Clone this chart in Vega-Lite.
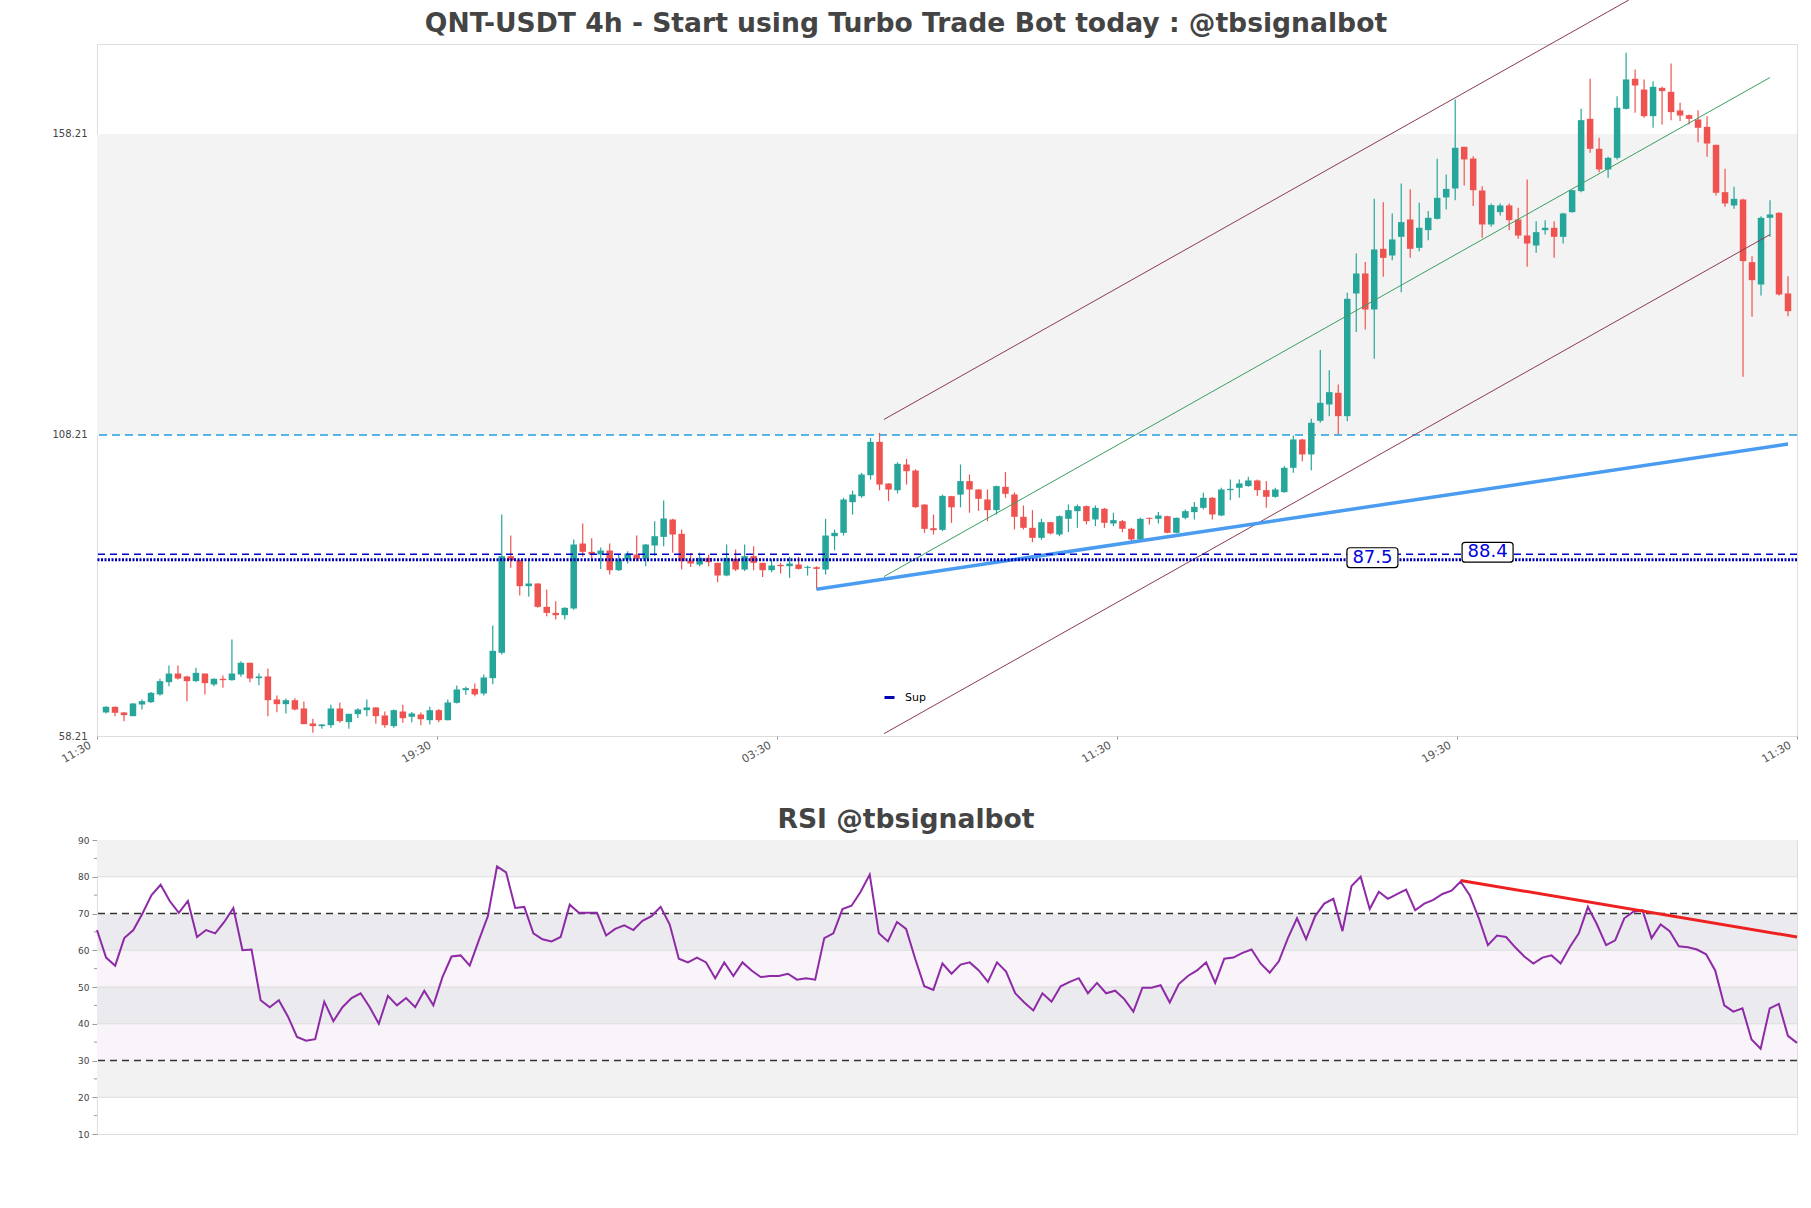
{
"$schema":"https://vega.github.io/schema/vega-lite/v6.json",
"autosize":{"type":"none"},
"padding":{"left":97,"top":44,"right":1714,"bottom":1164},
"background":"white",
"config":{"font":"DejaVu Sans","view":{"stroke":"#dddddd","strokeWidth":1},"axis":{"domain":false,"grid":false,"labelFont":"DejaVu Sans","labelColor":"#444444","tickColor":"#999999","labelOverlap":false,"labelBound":false,"labelFlush":false},"title":{"font":"DejaVu Sans"}},
"bounds":"flush",
"spacing":104,
"datasets":{
"ohlc":[
{"i":0,"o":62.12,"h":63.17,"l":61.95,"c":63.06},
{"i":1,"o":63.06,"h":63.1,"l":61.51,"c":62.06},
{"i":2,"o":62.12,"h":62.2,"l":60.68,"c":61.67},
{"i":3,"o":61.51,"h":63.7,"l":61.51,"c":63.61},
{"i":4,"o":63.44,"h":64.28,"l":62.61,"c":64.0},
{"i":5,"o":63.83,"h":65.5,"l":63.7,"c":65.38},
{"i":6,"o":65.11,"h":67.71,"l":64.94,"c":67.32},
{"i":7,"o":67.15,"h":69.92,"l":66.49,"c":68.59},
{"i":8,"o":68.59,"h":69.92,"l":67.6,"c":67.76},
{"i":9,"o":68.1,"h":68.2,"l":64.0,"c":67.32},
{"i":10,"o":67.32,"h":69.54,"l":67.2,"c":68.7},
{"i":11,"o":68.59,"h":68.6,"l":65.11,"c":66.99},
{"i":12,"o":66.77,"h":67.8,"l":66.49,"c":67.71},
{"i":13,"o":67.71,"h":68.26,"l":66.21,"c":67.49},
{"i":14,"o":67.49,"h":74.24,"l":67.4,"c":68.59},
{"i":15,"o":68.43,"h":70.64,"l":68.04,"c":70.37},
{"i":16,"o":70.37,"h":70.4,"l":67.15,"c":67.76},
{"i":17,"o":67.82,"h":68.59,"l":66.66,"c":68.1},
{"i":18,"o":68.1,"h":69.42,"l":61.51,"c":64.16},
{"i":19,"o":64.28,"h":64.94,"l":62.17,"c":63.5},
{"i":20,"o":63.5,"h":64.44,"l":61.95,"c":64.16},
{"i":21,"o":64.16,"h":64.5,"l":62.5,"c":62.61},
{"i":22,"o":62.78,"h":63.94,"l":60.18,"c":60.18},
{"i":23,"o":60.29,"h":61.06,"l":58.74,"c":59.85},
{"i":24,"o":59.85,"h":60.2,"l":59.4,"c":60.12},
{"i":25,"o":60.01,"h":63.39,"l":59.57,"c":62.78},
{"i":26,"o":62.78,"h":63.78,"l":60.4,"c":60.68},
{"i":27,"o":60.51,"h":61.9,"l":59.4,"c":61.89},
{"i":28,"o":61.84,"h":62.8,"l":61.2,"c":62.61},
{"i":29,"o":62.5,"h":64.28,"l":61.51,"c":62.95},
{"i":30,"o":62.95,"h":63.0,"l":60.23,"c":61.51},
{"i":31,"o":61.62,"h":62.3,"l":59.57,"c":60.01},
{"i":32,"o":59.85,"h":62.6,"l":59.57,"c":62.5},
{"i":33,"o":62.28,"h":63.39,"l":60.4,"c":61.17},
{"i":34,"o":61.4,"h":62.2,"l":60.5,"c":61.95},
{"i":35,"o":61.78,"h":62.1,"l":60.0,"c":61.0},
{"i":36,"o":60.84,"h":63.06,"l":60.12,"c":62.5},
{"i":37,"o":62.5,"h":62.7,"l":60.5,"c":60.84},
{"i":38,"o":60.84,"h":64.28,"l":60.8,"c":63.78},
{"i":39,"o":63.72,"h":66.6,"l":63.6,"c":65.94},
{"i":40,"o":65.83,"h":66.4,"l":65.05,"c":66.16},
{"i":41,"o":66.05,"h":66.93,"l":64.83,"c":65.11},
{"i":42,"o":65.27,"h":68.43,"l":64.94,"c":67.93},
{"i":43,"o":67.82,"h":76.57,"l":66.82,"c":72.36},
{"i":44,"o":72.03,"h":95.01,"l":71.75,"c":88.08},
{"i":45,"o":88.08,"h":91.52,"l":86.15,"c":87.42},
{"i":46,"o":87.42,"h":87.5,"l":81.55,"c":83.1},
{"i":47,"o":83.1,"h":87.53,"l":81.33,"c":83.54},
{"i":48,"o":83.54,"h":83.6,"l":79.5,"c":79.66},
{"i":49,"o":79.66,"h":82.54,"l":78.1,"c":78.66},
{"i":50,"o":78.66,"h":80.6,"l":77.56,"c":78.28},
{"i":51,"o":78.28,"h":79.6,"l":77.56,"c":79.5},
{"i":52,"o":79.39,"h":90.85,"l":79.2,"c":90.02},
{"i":53,"o":90.18,"h":93.5,"l":87.97,"c":88.8},
{"i":54,"o":88.8,"h":91.07,"l":87.52,"c":88.36},
{"i":55,"o":88.36,"h":89.52,"l":85.97,"c":89.02},
{"i":56,"o":89.02,"h":90.18,"l":85.03,"c":85.75},
{"i":57,"o":85.75,"h":88.5,"l":85.6,"c":87.52},
{"i":58,"o":87.52,"h":88.9,"l":86.86,"c":88.52},
{"i":59,"o":88.36,"h":91.51,"l":87.25,"c":87.64},
{"i":60,"o":87.64,"h":90.1,"l":86.4,"c":90.02},
{"i":61,"o":89.85,"h":93.89,"l":88.1,"c":91.4},
{"i":62,"o":91.29,"h":97.33,"l":89.74,"c":94.34},
{"i":63,"o":94.17,"h":94.3,"l":88.63,"c":91.68},
{"i":64,"o":91.79,"h":92.5,"l":85.86,"c":87.25},
{"i":65,"o":87.36,"h":88.6,"l":86.3,"c":86.86},
{"i":66,"o":86.69,"h":88.63,"l":86.4,"c":87.8},
{"i":67,"o":87.8,"h":88.36,"l":86.4,"c":87.08},
{"i":68,"o":86.97,"h":87.0,"l":83.76,"c":84.87},
{"i":69,"o":84.87,"h":90.02,"l":84.76,"c":87.8},
{"i":70,"o":87.64,"h":89.2,"l":85.6,"c":85.86},
{"i":71,"o":85.86,"h":90.02,"l":85.6,"c":88.08},
{"i":72,"o":88.08,"h":89.74,"l":85.75,"c":86.97},
{"i":73,"o":86.97,"h":87.0,"l":84.64,"c":85.75},
{"i":74,"o":85.75,"h":87.52,"l":85.42,"c":86.53},
{"i":75,"o":86.64,"h":86.97,"l":85.2,"c":86.42},
{"i":76,"o":86.42,"h":87.97,"l":84.48,"c":86.86},
{"i":77,"o":86.69,"h":87.97,"l":85.86,"c":85.97},
{"i":78,"o":86.14,"h":86.5,"l":84.87,"c":86.31},
{"i":79,"o":86.25,"h":86.4,"l":82.54,"c":85.97},
{"i":80,"o":85.86,"h":94.28,"l":85.03,"c":91.51},
{"i":81,"o":91.4,"h":92.5,"l":89.07,"c":91.96},
{"i":82,"o":91.96,"h":97.77,"l":91.51,"c":97.49},
{"i":83,"o":97.05,"h":98.98,"l":95.0,"c":98.32},
{"i":84,"o":98.04,"h":101.92,"l":97.77,"c":101.64},
{"i":85,"o":101.53,"h":107.73,"l":100.81,"c":107.07},
{"i":86,"o":107.07,"h":108.57,"l":99.04,"c":99.98},
{"i":87,"o":100.15,"h":100.2,"l":97.21,"c":99.15},
{"i":88,"o":99.04,"h":103.69,"l":98.49,"c":103.42},
{"i":89,"o":103.31,"h":104.25,"l":99.98,"c":102.2},
{"i":90,"o":102.31,"h":102.5,"l":96.1,"c":96.22},
{"i":91,"o":96.66,"h":96.7,"l":91.95,"c":92.62},
{"i":92,"o":92.73,"h":95.0,"l":91.68,"c":92.4},
{"i":93,"o":92.45,"h":98.3,"l":92.23,"c":98.1},
{"i":94,"o":98.05,"h":98.1,"l":93.62,"c":96.2},
{"i":95,"o":98.3,"h":103.31,"l":96.2,"c":100.55},
{"i":96,"o":100.55,"h":101.65,"l":95.29,"c":99.16},
{"i":97,"o":99.16,"h":99.2,"l":95.6,"c":97.61},
{"i":98,"o":97.5,"h":99.16,"l":93.9,"c":95.73},
{"i":99,"o":95.73,"h":99.8,"l":95.0,"c":99.72},
{"i":100,"o":99.6,"h":102.04,"l":97.78,"c":98.44},
{"i":101,"o":98.33,"h":98.7,"l":92.52,"c":94.62},
{"i":102,"o":94.62,"h":96.5,"l":92.52,"c":92.79},
{"i":103,"o":92.79,"h":95.73,"l":90.41,"c":91.13},
{"i":104,"o":91.13,"h":94.29,"l":90.8,"c":93.73},
{"i":105,"o":93.73,"h":93.8,"l":91.7,"c":91.85},
{"i":106,"o":91.68,"h":94.85,"l":91.4,"c":94.73},
{"i":107,"o":94.29,"h":96.67,"l":92.07,"c":95.73},
{"i":108,"o":95.56,"h":96.67,"l":92.79,"c":96.39},
{"i":109,"o":96.39,"h":96.5,"l":93.35,"c":93.9},
{"i":110,"o":94.18,"h":96.5,"l":93.07,"c":96.11},
{"i":111,"o":95.95,"h":96.1,"l":92.79,"c":93.62},
{"i":112,"o":93.51,"h":95.29,"l":93.07,"c":94.07},
{"i":113,"o":93.9,"h":94.07,"l":92.07,"c":92.63},
{"i":114,"o":92.63,"h":92.79,"l":90.58,"c":90.86},
{"i":115,"o":90.86,"h":94.45,"l":90.8,"c":94.29},
{"i":116,"o":94.45,"h":94.5,"l":93.35,"c":94.29},
{"i":117,"o":94.29,"h":95.4,"l":93.5,"c":94.84},
{"i":118,"o":94.73,"h":94.8,"l":91.9,"c":91.96},
{"i":119,"o":91.96,"h":94.5,"l":91.9,"c":94.45},
{"i":120,"o":94.45,"h":95.84,"l":94.2,"c":95.56},
{"i":121,"o":95.4,"h":97.06,"l":94.18,"c":96.28},
{"i":122,"o":96.11,"h":98.61,"l":95.84,"c":97.78},
{"i":123,"o":97.78,"h":97.9,"l":94.18,"c":95.01},
{"i":124,"o":94.84,"h":99.44,"l":94.73,"c":99.16},
{"i":125,"o":99.05,"h":100.82,"l":97.39,"c":99.27},
{"i":126,"o":99.44,"h":100.82,"l":97.78,"c":100.16},
{"i":127,"o":99.72,"h":101.27,"l":99.6,"c":100.66},
{"i":128,"o":100.66,"h":100.82,"l":98.06,"c":99.05},
{"i":129,"o":99.05,"h":100.55,"l":96.11,"c":97.94},
{"i":130,"o":97.94,"h":99.44,"l":97.78,"c":99.16},
{"i":131,"o":98.72,"h":103.04,"l":98.6,"c":102.76},
{"i":132,"o":102.76,"h":108.13,"l":101.93,"c":107.47},
{"i":133,"o":107.47,"h":107.6,"l":103.87,"c":104.98},
{"i":134,"o":104.98,"h":110.9,"l":102.37,"c":110.24},
{"i":135,"o":110.57,"h":122.31,"l":110.24,"c":113.56},
{"i":136,"o":113.28,"h":118.98,"l":111.34,"c":115.33},
{"i":137,"o":115.22,"h":116.6,"l":108.3,"c":111.34},
{"i":138,"o":111.34,"h":131.83,"l":110.5,"c":130.83},
{"i":139,"o":131.72,"h":138.36,"l":125.3,"c":135.04},
{"i":140,"o":135.04,"h":136.93,"l":125.74,"c":129.06},
{"i":141,"o":129.06,"h":147.44,"l":120.87,"c":139.03},
{"i":142,"o":139.14,"h":146.89,"l":134.49,"c":137.64},
{"i":143,"o":138.03,"h":145.01,"l":137.25,"c":140.69},
{"i":144,"o":141.13,"h":149.99,"l":131.94,"c":143.57},
{"i":145,"o":144.01,"h":149.05,"l":137.64,"c":139.14},
{"i":146,"o":139.3,"h":146.78,"l":138.75,"c":142.63},
{"i":147,"o":142.24,"h":145.4,"l":140.58,"c":144.29},
{"i":148,"o":144.12,"h":154.09,"l":144.0,"c":147.61},
{"i":149,"o":147.67,"h":151.48,"l":145.67,"c":149.1},
{"i":150,"o":149.16,"h":163.94,"l":147.22,"c":155.92},
{"i":151,"o":156.08,"h":156.1,"l":149.66,"c":153.98},
{"i":152,"o":154.14,"h":154.53,"l":146.23,"c":148.88},
{"i":153,"o":148.83,"h":149.55,"l":140.96,"c":143.18},
{"i":154,"o":143.18,"h":146.67,"l":142.79,"c":146.39},
{"i":155,"o":145.23,"h":146.67,"l":144.67,"c":146.34},
{"i":156,"o":146.34,"h":146.67,"l":142.24,"c":143.9},
{"i":157,"o":144.01,"h":145.95,"l":140.8,"c":141.35},
{"i":158,"o":141.35,"h":150.65,"l":136.15,"c":140.02},
{"i":159,"o":139.69,"h":143.73,"l":138.47,"c":141.91},
{"i":160,"o":142.24,"h":143.9,"l":141.52,"c":142.63},
{"i":161,"o":142.63,"h":143.73,"l":137.64,"c":141.13},
{"i":162,"o":141.13,"h":145.12,"l":140.02,"c":145.01},
{"i":163,"o":145.23,"h":148.9,"l":145.12,"c":148.88},
{"i":164,"o":148.72,"h":162.39,"l":148.55,"c":160.51},
{"i":165,"o":160.73,"h":167.38,"l":155.08,"c":155.75},
{"i":166,"o":155.75,"h":157.58,"l":151.87,"c":152.32},
{"i":167,"o":152.32,"h":154.42,"l":150.93,"c":154.25},
{"i":168,"o":154.25,"h":164.5,"l":153.98,"c":162.56},
{"i":169,"o":162.39,"h":171.7,"l":162.3,"c":167.27},
{"i":170,"o":167.38,"h":168.93,"l":161.73,"c":166.27},
{"i":171,"o":165.6,"h":167.27,"l":160.9,"c":161.17},
{"i":172,"o":161.17,"h":166.99,"l":159.24,"c":166.05},
{"i":173,"o":165.88,"h":166.05,"l":159.79,"c":165.33},
{"i":174,"o":165.22,"h":169.92,"l":160.51,"c":161.84},
{"i":175,"o":162.12,"h":163.39,"l":160.35,"c":161.28},
{"i":176,"o":161.34,"h":161.45,"l":159.79,"c":160.73},
{"i":177,"o":160.62,"h":162.17,"l":156.86,"c":159.24},
{"i":178,"o":159.4,"h":161.17,"l":154.42,"c":156.63},
{"i":179,"o":156.41,"h":156.41,"l":148.0,"c":148.44},
{"i":180,"o":148.55,"h":152.43,"l":146.12,"c":146.67},
{"i":181,"o":146.34,"h":149.44,"l":145.78,"c":147.44},
{"i":182,"o":147.33,"h":147.44,"l":117.87,"c":137.09},
{"i":183,"o":136.92,"h":137.92,"l":127.84,"c":133.93},
{"i":184,"o":133.21,"h":144.56,"l":131.38,"c":144.29},
{"i":185,"o":144.29,"h":147.22,"l":141.13,"c":144.84},
{"i":186,"o":145.12,"h":145.23,"l":131.38,"c":131.55},
{"i":187,"o":131.72,"h":134.6,"l":127.95,"c":128.78}
],
"rsi":[
{"i":0,"v":65.5},{"i":1,"v":58},{"i":2,"v":55.8},{"i":3,"v":63.3},{"i":4,"v":65.5},{"i":5,"v":70},{"i":6,"v":75},{"i":7,"v":77.8},{"i":8,"v":73.4},{"i":9,"v":70.2},
{"i":10,"v":73.4},{"i":11,"v":63.6},{"i":12,"v":65.5},{"i":13,"v":64.6},{"i":14,"v":67.7},{"i":15,"v":71.5},{"i":16,"v":60},{"i":17,"v":60.2},{"i":18,"v":46.4},{"i":19,"v":44.5},
{"i":20,"v":46.4},{"i":21,"v":42},{"i":22,"v":36.4},{"i":23,"v":35.4},{"i":24,"v":35.8},{"i":25,"v":46},{"i":26,"v":40.7},{"i":27,"v":44.5},{"i":28,"v":47},{"i":29,"v":48.3},
{"i":30,"v":44.5},{"i":31,"v":40},{"i":32,"v":47.6},{"i":33,"v":45},{"i":34,"v":47},{"i":35,"v":44.5},{"i":36,"v":49},{"i":37,"v":45},{"i":38,"v":52.7},{"i":39,"v":58.3},
{"i":40,"v":58.6},{"i":41,"v":55.8},{"i":42,"v":62.7},{"i":43,"v":69.3},{"i":44,"v":82.8},{"i":45,"v":81.2},{"i":46,"v":71.5},{"i":47,"v":71.8},{"i":48,"v":64.6},{"i":49,"v":63},
{"i":50,"v":62.4},{"i":51,"v":63.6},{"i":52,"v":72.4},{"i":53,"v":70.2},{"i":54,"v":70.2},{"i":55,"v":70.2},{"i":56,"v":64},{"i":57,"v":65.8},{"i":58,"v":66.8},{"i":59,"v":65.5},
{"i":60,"v":68},{"i":61,"v":69.3},{"i":62,"v":71.8},{"i":63,"v":67},{"i":64,"v":57.7},{"i":65,"v":56.7},{"i":66,"v":58},{"i":67,"v":56.7},{"i":68,"v":52.4},{"i":69,"v":56.7},
{"i":70,"v":53},{"i":71,"v":56.7},{"i":72,"v":54.5},{"i":73,"v":52.7},{"i":74,"v":53},{"i":75,"v":53},{"i":76,"v":53.6},{"i":77,"v":52},{"i":78,"v":52.4},{"i":79,"v":52},
{"i":80,"v":63.3},{"i":81,"v":64.6},{"i":82,"v":71.2},{"i":83,"v":72.1},{"i":84,"v":75.9},{"i":85,"v":80.6},{"i":86,"v":64.6},{"i":87,"v":62.4},{"i":88,"v":67.7},{"i":89,"v":65.8},
{"i":90,"v":57.7},{"i":91,"v":50.2},{"i":92,"v":49.2},{"i":93,"v":56.4},{"i":94,"v":53.6},{"i":95,"v":56.1},{"i":96,"v":56.7},{"i":97,"v":54.5},{"i":98,"v":51.4},{"i":99,"v":56.7},
{"i":100,"v":54.2},{"i":101,"v":48.3},{"i":102,"v":45.8},{"i":103,"v":43.6},{"i":104,"v":48.3},{"i":105,"v":46},{"i":106,"v":50.2},{"i":107,"v":51.4},{"i":108,"v":52.4},{"i":109,"v":48.3},
{"i":110,"v":51.1},{"i":111,"v":48.3},{"i":112,"v":49},{"i":113,"v":46.7},{"i":114,"v":43.3},{"i":115,"v":49.8},{"i":116,"v":49.8},{"i":117,"v":50.5},{"i":118,"v":45.8},{"i":119,"v":50.8},
{"i":120,"v":53},{"i":121,"v":54.5},{"i":122,"v":56.7},{"i":123,"v":51.1},{"i":124,"v":57.7},{"i":125,"v":58},{"i":126,"v":59.3},{"i":127,"v":60.2},{"i":128,"v":56.4},{"i":129,"v":53.9},
{"i":130,"v":57},{"i":131,"v":63.3},{"i":132,"v":68.7},{"i":133,"v":63},{"i":134,"v":69.3},{"i":135,"v":72.7},{"i":136,"v":74},{"i":137,"v":65.2},{"i":138,"v":77.5},{"i":139,"v":80},
{"i":140,"v":71.2},{"i":141,"v":75.9},{"i":142,"v":74},{"i":143,"v":75.3},{"i":144,"v":76.5},{"i":145,"v":70.9},{"i":146,"v":72.7},{"i":147,"v":73.7},{"i":148,"v":75.3},{"i":149,"v":76.2},
{"i":150,"v":78.7},{"i":151,"v":75},{"i":152,"v":68.7},{"i":153,"v":61.4},{"i":154,"v":64},{"i":155,"v":63.6},{"i":156,"v":60.8},{"i":157,"v":58.3},{"i":158,"v":56.4},{"i":159,"v":58},
{"i":160,"v":58.6},{"i":161,"v":56.4},{"i":162,"v":60.8},{"i":163,"v":64.6},{"i":164,"v":71.8},{"i":165,"v":67},{"i":166,"v":61.4},{"i":167,"v":62.7},{"i":168,"v":68.7},{"i":169,"v":70.5},
{"i":170,"v":70.9},{"i":171,"v":63.3},{"i":172,"v":67},{"i":173,"v":65.2},{"i":174,"v":61.1},{"i":175,"v":60.8},{"i":176,"v":60.2},{"i":177,"v":58.9},{"i":178,"v":54.5},{"i":179,"v":45},
{"i":180,"v":43.3},{"i":181,"v":44.2},{"i":182,"v":35.7},{"i":183,"v":33.2},{"i":184,"v":44.2},{"i":185,"v":45.4},{"i":186,"v":36.7},{"i":187,"v":34.8}
],
"zone":[{"lo":108.21,"hi":158.21}],
"res":[{"v":108.21}],
"sup":[{"name":"Sup","v":87.5}],
"sup2":[{"v":88.4}],
"labels":[{"i":140.8,"v":87.5,"txt":"87.5"},{"i":153.6,"v":88.4,"txt":"88.4"}],
"trend":[{"i":79,"v":82.6},{"i":187,"v":106.7}],
"channel":[
{"line":"upper","i":86.5,"v":110.8},{"line":"upper","i":169.3,"v":180.47},
{"line":"mid","i":86.5,"v":84.7},{"line":"mid","i":185,"v":167.6},
{"line":"lower","i":86.5,"v":58.6},{"line":"lower","i":185,"v":141.5}
],
"rsizones":[
{"v":80,"v2":90,"kind":"outer"},{"v":60,"v2":70,"kind":"gray"},{"v":50,"v2":60,"kind":"light"},
{"v":40,"v2":50,"kind":"gray"},{"v":30,"v2":40,"kind":"light"},{"v":20,"v2":30,"kind":"outer"}
],
"rsigrid":[{"v":80},{"v":60},{"v":50},{"v":40},{"v":20}],
"rsiminor":[{"v":15},{"v":25},{"v":35},{"v":45},{"v":55},{"v":65},{"v":75},{"v":85}],
"rsilevels":[{"v":70},{"v":30}],
"rsitrend":[{"i":150,"v":79},{"i":187,"v":63.6}]
},
"vconcat":[
{
"width":1700,"height":692,
"title":{"text":"QNT-USDT 4h - Start using Turbo Trade Bot today : @tbsignalbot","fontSize":26.6,"fontWeight":"bold","color":"#444444","anchor":"middle","frame":"group","dx":-41,"offset":-61,"baseline":"alphabetic"},
"layer":[
{"data":{"name":"zone"},"mark":{"type":"rect","color":"#f3f3f3"},
 "encoding":{
  "x":{"datum":-1,"type":"quantitative","scale":{"domain":[-1,188],"nice":false,"zero":false,"padding":0},
   "axis":{"title":null,"values":[-1,36.8,74.6,112.4,150.2,188],"labelExpr":"datum.value < 0 ? '11:30' : datum.value < 40 ? '19:30' : datum.value < 80 ? '03:30' : datum.value < 120 ? '11:30' : datum.value < 160 ? '19:30' : '11:30'","labelAngle":-30,"labelAlign":"right","labelBaseline":"top","labelFontSize":11,"labelPadding":0,"labelOffset":-10,"labelOverlap":false,"tickSize":3,"labelColor":"#555555"}},
  "x2":{"datum":188},
  "y":{"field":"lo","type":"quantitative","scale":{"domain":[58.21,173.16],"nice":false,"zero":false,"padding":0},
   "axis":{"title":null,"values":[58.21,108.21,158.21],"format":".2f","labelFontSize":10,"ticks":false,"tickSize":0,"labelPadding":10,"labelOverlap":false,"labelColor":"#444444"}},
  "y2":{"field":"hi"}}},
{"data":{"name":"res"},"mark":{"type":"rule","color":"#22a0e0","strokeWidth":1.3,"strokeDash":[8,5]},
 "encoding":{"y":{"field":"v","type":"quantitative"}}},
{"data":{"name":"ohlc"},"mark":{"type":"rule","strokeWidth":1.2},
 "encoding":{"x":{"field":"i","type":"quantitative"},"y":{"field":"l","type":"quantitative"},"y2":{"field":"h"},
  "color":{"condition":{"test":"datum.c >= datum.o","value":"#26a69a"},"value":"#ef5350"}}},
{"data":{"name":"ohlc"},"mark":{"type":"bar","size":6.5,"orient":"vertical"},
 "encoding":{"x":{"field":"i","type":"quantitative"},"y":{"field":"o","type":"quantitative"},"y2":{"field":"c"},
  "color":{"condition":{"test":"datum.c >= datum.o","value":"#26a69a"},"value":"#ef5350"}}},
{"data":{"name":"channel"},"mark":{"type":"line","strokeWidth":1,"clip":false},
 "encoding":{"x":{"field":"i","type":"quantitative"},"y":{"field":"v","type":"quantitative"},
  "stroke":{"field":"line","type":"nominal","scale":{"domain":["upper","mid","lower"],"range":["#8c3b50","#3a9e60","#8c3b50"]},"legend":null}}},
{"data":{"name":"trend"},"mark":{"type":"line","strokeWidth":3.5,"color":"#4a9cf0"},
 "encoding":{"x":{"field":"i","type":"quantitative"},"y":{"field":"v","type":"quantitative"}}},
{"data":{"name":"sup2"},"mark":{"type":"rule","color":"#0000cc","strokeWidth":1.4,"strokeDash":[7,5]},
 "encoding":{"y":{"field":"v","type":"quantitative"}}},
{"data":{"name":"sup"},"mark":{"type":"rule","strokeWidth":3,"strokeDash":[2,1.5]},
 "encoding":{"y":{"field":"v","type":"quantitative"},
  "color":{"field":"name","type":"nominal","scale":{"domain":["Sup"],"range":["#0000b0"]},
   "legend":{"orient":"none","legendX":786,"legendY":647,"title":null,"padding":0,"symbolType":"stroke","symbolSize":100,"symbolStrokeWidth":3,"symbolDash":[10,0],"labelFontSize":11,"labelColor":"#000000","labelOffset":9,"labelFont":"DejaVu Sans"}}}},
{"data":{"name":"labels"},"mark":{"type":"point","shape":"M-0.88,-0.39 L0.88,-0.39 Q1,-0.39 1,-0.27 L1,0.27 Q1,0.39 0.88,0.39 L-0.88,0.39 Q-1,0.39 -1,0.27 L-1,-0.27 Q-1,-0.39 -0.88,-0.39 Z","size":2601,"filled":true,"fill":"#ffffff","stroke":"#000000","strokeWidth":1.2,"opacity":1,"yOffset":-2},
 "encoding":{"x":{"field":"i","type":"quantitative"},"y":{"field":"v","type":"quantitative"}}},
{"data":{"name":"labels"},"mark":{"type":"text","fontSize":18,"color":"#0000dd","align":"center","baseline":"middle","yOffset":-2},
 "encoding":{"x":{"field":"i","type":"quantitative"},"y":{"field":"v","type":"quantitative"},"text":{"field":"txt"}}}
]
},
{
"width":1700,"height":294,
"title":{"text":"RSI @tbsignalbot","fontSize":26.6,"fontWeight":"bold","color":"#444444","anchor":"middle","frame":"group","dx":-41,"offset":-19,"baseline":"alphabetic"},
"encoding":{
 "y":{"field":"v","type":"quantitative","scale":{"domain":[10,90],"nice":false,"zero":false,"padding":0},
  "axis":{"title":null,"values":[10,20,30,40,50,60,70,80,90],"format":"d","labelOverlap":false,"labelFontSize":9,"labelPadding":3,"tickSize":5,"tickColor":"#999999","labelColor":"#444444"}}
},
"layer":[
{"data":{"name":"rsizones"},"mark":{"type":"rect"},
 "encoding":{
  "x":{"datum":0,"type":"quantitative","scale":{"domain":[0,187],"nice":false,"zero":false,"padding":0},"axis":null},
  "x2":{"datum":187},
  "y2":{"field":"v2"},
  "fill":{"field":"kind","type":"nominal","scale":{"domain":["outer","gray","light"],"range":["#f2f2f2","#ebebef","#f8f4fa"]},"legend":null}}},
{"data":{"name":"rsigrid"},"mark":{"type":"rule","color":"#dcdcdc","strokeWidth":1},"encoding":{}},
{"data":{"name":"rsiminor"},"mark":{"type":"rule","color":"#999999","strokeWidth":1,"xOffset":-3,"x2Offset":0,"clip":false},
 "encoding":{"x":{"datum":0,"type":"quantitative"},"x2":{"datum":0}}},
{"data":{"name":"rsilevels"},"mark":{"type":"rule","color":"#333333","strokeWidth":1.3,"strokeDash":[7,5]},"encoding":{}},
{"data":{"name":"rsi"},"mark":{"type":"line","color":"#8e2aa6","strokeWidth":2},
 "encoding":{"x":{"field":"i","type":"quantitative"}}},
{"data":{"name":"rsitrend"},"mark":{"type":"line","color":"#ee2020","strokeWidth":3},
 "encoding":{"x":{"field":"i","type":"quantitative"}}}
]
}
]
}
